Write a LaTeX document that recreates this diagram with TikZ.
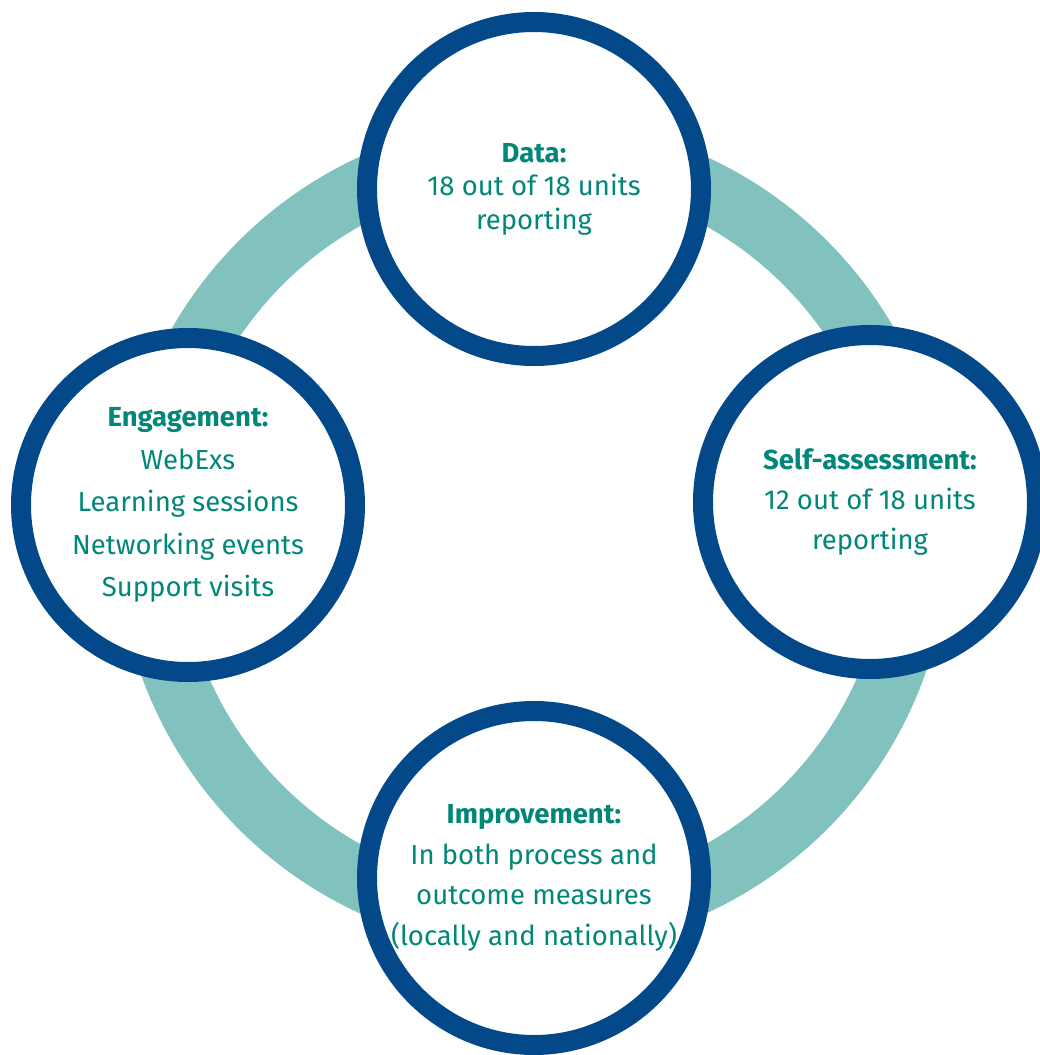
\documentclass[tikz,border=0pt]{standalone}
\usepackage{fontspec}
\setmainfont{Fira Sans}
\definecolor{ringteal}{HTML}{82C2BE}
\definecolor{navy}{HTML}{03498A}
\definecolor{txtgreen}{HTML}{00877A}
\begin{document}
\begin{tikzpicture}[x=1pt,y=-1pt,
  bubble/.style={circle, draw=navy, line width=20pt, fill=white,
    minimum size=334pt, inner sep=0pt, align=center, text=txtgreen}]
\useasboundingbox (0,0) rectangle (1040,1055);
\clip (0,0) rectangle (1040,1055);
\coordinate (hub) at (533,535);
\draw[ringteal, line width=62pt] (hub) circle[radius=385pt];
\node[bubble, font={\fontsize{27.5}{33.5}\selectfont}] (data) at (534,189)
  {\textbf{Data:}\\18 out of 18 units\\reporting};
\node[bubble, font={\fontsize{27.5}{42.5}\selectfont}] (engage) at (188,505)
  {\textbf{Engagement:}\\WebExs\\Learning sessions\\Networking events\\Support visits};
\node[bubble, font={\fontsize{27.5}{40}\selectfont}] (self) at (870,502)
  {\textbf{Self-assessment:}\\12 out of 18 units\\reporting};
\node[bubble, font={\fontsize{27.5}{40.5}\selectfont}] (improve) at (534,878)
  {\textbf{Improvement:}\\In both process and\\outcome measures\\(locally and nationally)};
\end{tikzpicture}
\end{document}
